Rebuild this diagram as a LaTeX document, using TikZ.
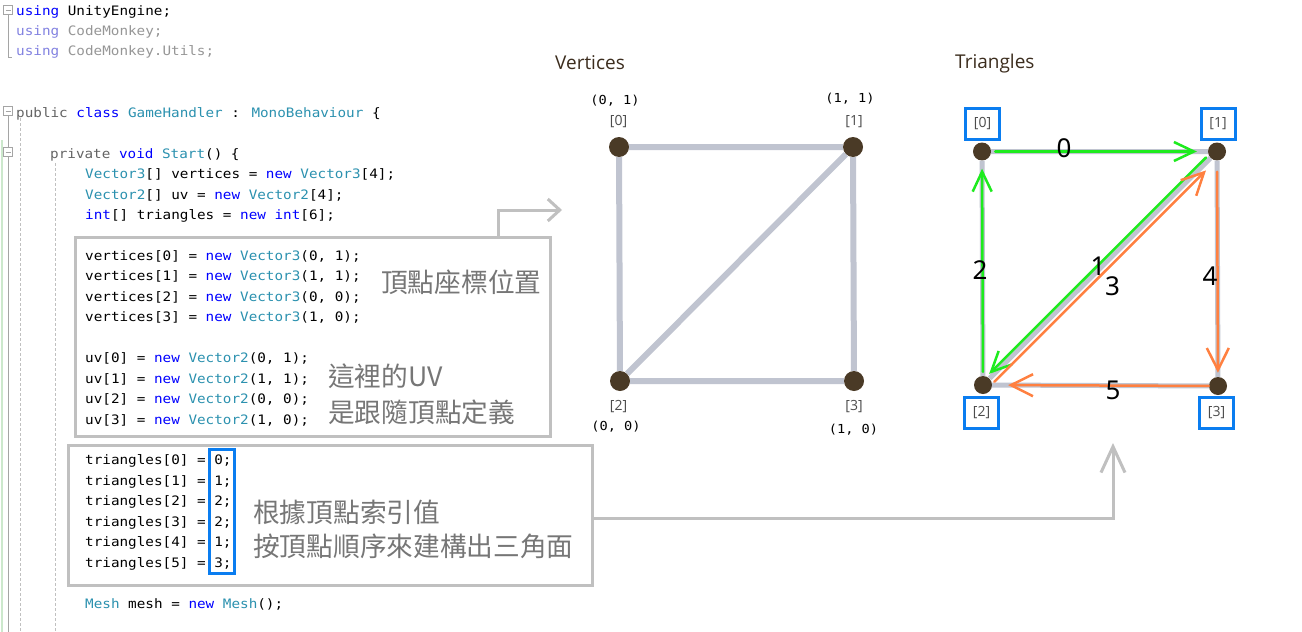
\documentclass[tikz,border=0pt]{standalone}
\usepackage{fontspec}
\usepackage{xcolor}
\setmainfont{Open Sans}
\newfontfamily\codefont[FakeStretch=1.1]{DejaVu Sans Mono}
\newfontfamily\cjkfont{Noto Sans CJK TC}
\newfontfamily\numfont{Noto Sans}
\usetikzlibrary{
  positioning,
  arrows.meta,
  calc
}

\definecolor{kwblue}{RGB}{0,0,255}
\definecolor{tyteal}{RGB}{43,145,175}
\definecolor{dimblue}{RGB}{130,130,225}
\definecolor{dimgray}{RGB}{150,150,150}
\definecolor{modgray}{RGB}{100,100,100}
\definecolor{boxgray}{RGB}{192,192,192}
\definecolor{notegray}{RGB}{118,118,118}
\definecolor{selblue}{RGB}{10,125,240}
\definecolor{edgegray}{RGB}{192,196,208}
\definecolor{dotbrown}{RGB}{74,58,38}
\definecolor{titlebrown}{RGB}{60,45,30}
\definecolor{arrgreen}{RGB}{30,235,30}
\definecolor{arrorange}{RGB}{255,128,64}
\definecolor{foldgray}{RGB}{165,165,165}

\newcommand{\kw}[1]{\textcolor{kwblue}{#1}}
\newcommand{\ty}[1]{\textcolor{tyteal}{#1}}

\begin{document}
\begin{tikzpicture}[
  x=1pt, y=-1pt,
  code/.style={anchor=base west, inner sep=0pt, font=\codefont\fontsize{13}{15}\selectfont},
  note/.style={anchor=west, inner sep=0pt, text=notegray, font=\cjkfont\fontsize{26.7}{30}\selectfont},
  codebox/.style={draw=boxgray, line width=3pt, inner sep=0pt},
  selbox/.style={draw=selblue, line width=3pt, inner sep=0pt},
  link/.style={draw=boxgray, line width=3pt},
  fold/.style={draw=foldgray, fill=white, line width=1pt, minimum size=9pt, inner sep=0pt,
    path picture={\draw[foldgray, line width=1pt] ([xshift=2pt]path picture bounding box.west) -- ([xshift=-2pt]path picture bounding box.east);}},
  gutter/.style={draw=foldgray, line width=1pt},
  guide/.style={draw=boxgray, line width=0.8pt, dash pattern=on 3pt off 2pt},
  title/.style={anchor=base west, inner sep=0pt, text=titlebrown, font=\fontsize{19}{22}\selectfont},
  vdot/.style={circle, fill=dotbrown, minimum size=20pt, inner sep=0pt},
  tdot/.style={circle, fill=dotbrown, minimum size=18pt, inner sep=0pt},
  edge/.style={draw=edgegray, line width=6pt},
  coord/.style={inner sep=0pt, font=\codefont\fontsize{12.4}{14}\selectfont},
  vidx/.style={inner sep=0pt, text=black!70, font=\fontsize{14}{16}\selectfont},
  tidx/.style={selbox, minimum width=34pt, minimum height=31pt, text=black!70, font=\fontsize{14}{16}\selectfont},
  num/.style={inner sep=0pt, font=\numfont\fontsize{26}{28}\selectfont},
  greenarr/.style={draw=arrgreen, line width=2.5pt, line cap=round, -{Straight Barb[length=20pt,width=19pt]}},
  orangearr/.style={draw=arrorange, line width=2.5pt, line cap=round, -{Straight Barb[length=22pt,width=22pt]}}
]

\fill[white] (0,0) rectangle (1302,632);
\useasboundingbox (0,0) rectangle (1302,632);

% Editor gutter
\fill[green!55!black!20] (0.5,140) rectangle (2.5,632);
\node[fold] (fold0) at (8,10) {};
\node[fold] (fold1) at (8,111) {};
\node[fold] (fold2) at (8,152) {};
\coordinate (usingend) at (12,57);
\coordinate (gutterend) at (8,632);
\draw[gutter] (fold0) |- (usingend);
\draw[gutter] (fold1) -- (fold2);
\draw[gutter] (fold2) -- (gutterend);
\coordinate (guideAtop) at (20,118);
\coordinate (guideAbot) at (20,632);
\coordinate (guideBtop) at (55,163);
\coordinate (guideBbot) at (55,632);
\draw[guide] (guideAtop) -- (guideAbot);
\draw[guide] (guideBtop) -- (guideBbot);

% Code
\node[code] (ln0) at (16,15) {\kw{using} UnityEngine;};
\node[code] (ln1) at (16,35.5) {\textcolor{dimblue}{using} \textcolor{dimgray}{CodeMonkey;}};
\node[code] (ln2) at (16,55.9) {\textcolor{dimblue}{using} \textcolor{dimgray}{CodeMonkey.Utils;}};
\node[code] (ln5) at (16,117.3) {\textcolor{modgray}{public} \kw{class} \ty{GameHandler} : \ty{MonoBehaviour} \{};
\node[code] (ln7) at (50,158.2) {\textcolor{modgray}{private} \kw{void} \ty{Start}() \{};
\node[code] (ln8) at (85,178.6) {\ty{Vector3}[] vertices = \kw{new} \ty{Vector3}[4];};
\node[code] (ln9) at (85,199.1) {\ty{Vector2}[] uv = \kw{new} \ty{Vector2}[4];};
\node[code] (ln10) at (85,219.5) {\kw{int}[] triangles = \kw{new} \kw{int}[6];};

\node[code] (ln12) at (85,260.4) {vertices[0] = \kw{new} \ty{Vector3}(0, 1);};
\node[code] (ln13) at (85,280.9) {vertices[1] = \kw{new} \ty{Vector3}(1, 1);};
\node[code] (ln14) at (85,301.3) {vertices[2] = \kw{new} \ty{Vector3}(0, 0);};
\node[code] (ln15) at (85,321.8) {vertices[3] = \kw{new} \ty{Vector3}(1, 0);};
\node[code] (ln17) at (85,362.7) {uv[0] = \kw{new} \ty{Vector2}(0, 1);};
\node[code] (ln18) at (85,383.1) {uv[1] = \kw{new} \ty{Vector2}(1, 1);};
\node[code] (ln19) at (85,403.6) {uv[2] = \kw{new} \ty{Vector2}(0, 0);};
\node[code] (ln20) at (85,424) {uv[3] = \kw{new} \ty{Vector2}(1, 0);};

\node[code] (ln22) at (85,464.9) {triangles[0] = 0;};
\node[code] (ln23) at (85,485.4) {triangles[1] = 1;};
\node[code] (ln24) at (85,505.8) {triangles[2] = 2;};
\node[code] (ln25) at (85,526.3) {triangles[3] = 2;};
\node[code] (ln26) at (85,546.7) {triangles[4] = 1;};
\node[code] (ln27) at (85,567.2) {triangles[5] = 3;};
\node[code] (ln29) at (85,608.1) {\ty{Mesh} mesh = \kw{new} \ty{Mesh}();};

% Highlight boxes and notes
\node[codebox, minimum width=475pt, minimum height=199pt] (vbox) at (312.5,336.5) {};
\node[codebox, minimum width=524pt, minimum height=140pt] (tbox) at (330,515) {};
\node[selbox, minimum width=25pt, minimum height=124pt] (triidx) at (221.5,511) {};

\node[note] (notevert) at (381,282) {頂點座標位置};
\node[note] (noteuv1) at (328,376) {這裡的UV};
\node[note] (noteuv2) at (328,412) {是跟隨頂點定義};
\node[note] (notetri1) at (253,512) {根據頂點索引值};
\node[note] (notetri2) at (253,546) {按頂點順序來建構出三角面};

% Links to the diagrams
\coordinate (vtip) at (562,210);
\coordinate (ttip) at (1113,443);
\draw[link, -{Straight Barb[length=12pt,width=22pt]}] ([xshift=-53pt]vbox.north east) |- (vtip);
\draw[link, -{Straight Barb[length=26pt,width=24pt]}] ([yshift=-3pt]tbox.east) -| (ttip);

% Vertices
\node[title] (vtitle) at (555,69) {Vertices};
\node[vdot] (v0) at (619,147) {};
\node[vdot] (v1) at (853,147) {};
\node[vdot] (v2) at (620,381) {};
\node[vdot] (v3) at (854,381) {};
\draw[edge] (v0) -- (v1) -- (v3) -- (v2) -- (v0);
\draw[edge] (v2) -- (v1);

\node[coord] (v0pos) at (615,101) {(0, 1)};
\node[vidx] (v0idx) at (618.5,122) {[0]};
\node[coord] (v1pos) at (850,99) {(1, 1)};
\node[vidx] (v1idx) at (854,122) {[1]};
\node[vidx] (v2idx) at (618.5,407) {[2]};
\node[coord] (v2pos) at (616,427) {(0, 0)};
\node[vidx] (v3idx) at (854,407) {[3]};
\node[coord] (v3pos) at (853.5,430) {(1, 0)};

% Triangles
\node[title] (ttitle) at (955,68) {Triangles};
\node[tdot] (t0) at (982,151.5) {};
\node[tdot] (t1) at (1217,151.5) {};
\node[tdot] (t2) at (983,385) {};
\node[tdot] (t3) at (1218,386) {};
\draw[edge, line width=5pt] (t0) -- (t1) -- (t3) -- (t2) -- (t0);
\draw[edge, line width=5pt] (t2) -- (t1);

\node[tidx] (t0idx) at (982.5,123.5) {[0]};
\node[tidx] (t1idx) at (1218,124) {[1]};
\node[tidx] (t2idx) at (981.5,412.5) {[2]};
\node[tidx] (t3idx) at (1216.5,412.5) {[3]};

% first triangle
\draw[greenarr, shorten <=4pt, shorten >=11pt] (t0) -- (t1);
\draw[greenarr, shorten <=3pt, shorten >=3pt, transform canvas={xshift=-2.5pt, yshift=2.5pt}] (t1) -- (t2);
\draw[greenarr, shorten <=4pt, shorten >=8pt] (t2) -- (t0);
% second triangle
\draw[orangearr, shorten <=1pt, shorten >=12pt, transform canvas={xshift=4pt, yshift=-4pt}] (t2) -- (t1);
\draw[orangearr, shorten <=11pt, shorten >=4pt] (t1) -- (t3);
\draw[orangearr, shorten <=0pt, shorten >=16pt] (t3) -- (t2);

\node[num] (n0) at (1064,148) {0};
\node[num] (n1) at (1098,266) {1};
\node[num] (n2) at (980,270) {2};
\node[num] (n3) at (1112.5,286.5) {3};
\node[num] (n4) at (1210,276) {4};
\node[num] (n5) at (1113,390) {5};

\end{tikzpicture}
\end{document}
